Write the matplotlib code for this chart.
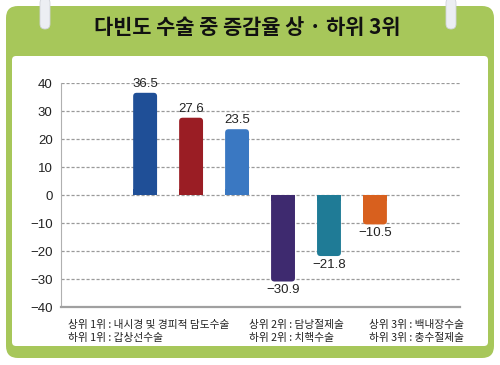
import matplotlib
matplotlib.use("Agg")
import matplotlib.pyplot as plt
from matplotlib.patches import FancyBboxPatch, Rectangle
import matplotlib.font_manager as fm

categories = ["상위 1위", "상위 2위", "상위 3위", "하위 1위", "하위 2위", "하위 3위"]
values = [36.5, 27.6, 23.5, -30.9, -21.8, -10.5]
value_labels = ["36.5", "27.6", "23.5", "−30.9", "−21.8", "−10.5"]
colors = ["#1f4f97", "#9a1d24", "#3a78c2", "#3e2a6f", "#1f7b96", "#d8601e"]
yticks = [40, 30, 20, 10, 0, -10, -20, -30, -40]
ytick_labels = ["40", "30", "20", "10", "0", "−10", "−20", "−30", "−40"]
title = "다빈도 수술 중 증감율 상 · 하위 3위"
notes_col1 = ["상위 1위 : 내시경 및 경피적 담도수술", "하위 1위 : 갑상선수술"]
notes_col2 = ["상위 2위 : 담낭절제술", "하위 2위 : 치핵수술"]
notes_col3 = ["상위 3위 : 백내장수술", "하위 3위 : 충수절제술"]

names = {f.name for f in fm.fontManager.ttflist}
num_font = "Liberation Sans Narrow" if "Liberation Sans Narrow" in names else "Liberation Sans"
kr = "Noto Sans CJK KR"

W, H = 500, 365
fig = plt.figure(figsize=(5, 3.65), dpi=100)
fig.patch.set_facecolor("white")

def fx(px):
    return px / W

def fy(py):
    return 1 - py / H

# outer green frame
bg = fig.add_axes([0, 0, 1, 1])
bg.set_xlim(0, W)
bg.set_ylim(H, 0)
bg.axis("off")
bg.add_patch(FancyBboxPatch((6, 6), 488, 352, boxstyle="round,pad=0,rounding_size=12",
                            fc="#a7c75a", ec="none"))
bg.add_patch(FancyBboxPatch((12, 56), 476, 290, boxstyle="round,pad=0,rounding_size=4",
                            fc="white", ec="none"))
# binder rings
for rx in (45, 451):
    bg.add_patch(FancyBboxPatch((rx - 5, -2), 10, 31, boxstyle="round,pad=0,rounding_size=5",
                                fc="#eceef3", ec="#d0d3da", lw=0.6))
bg.text(247, 28, title, ha="center", va="center", fontsize=15, fontweight=900,
        family=[kr, "DejaVu Sans"], color="#111111")

# notes
for i, (a, b, c) in enumerate(zip(notes_col1, notes_col2, notes_col3)):
    y = 325 + i * 12.5
    for xx, t in ((68, a), (249, b), (369, c)):
        bg.text(xx, y, t, fontsize=7.7, family=[kr], fontweight=500, va="center",
                color="#222222")

# chart axes: left 61, right 460, top 83 (40), bottom 307 (-40)
ax = fig.add_axes([fx(61), fy(307), fx(460 - 61), (307 - 83) / H])
ax.set_facecolor("none")
x = list(range(len(values)))
bars = ax.bar(x, values, width=0.52, color=colors, zorder=3)
ax.set_xlim(-1.83, 6.85)
ax.set_ylim(-40, 40)

# round the outer end of each bar
px_per_x = (460 - 61) / (6.85 + 1.83)
px_per_y = (307 - 83) / 80.0
r_px = 3.5
rx_d = r_px / px_per_x
for b, c in zip(bars, colors):
    x0, w = b.get_x(), b.get_width()
    h = b.get_height()
    b.set_visible(False)
    y0 = min(0, h)
    hh = abs(h)
    ax.add_patch(FancyBboxPatch((x0, y0), w, hh,
                                boxstyle="round,pad=0,rounding_size=%f" % rx_d,
                                mutation_aspect=px_per_x / px_per_y,
                                fc=c, ec="none", zorder=3))
    # square off the zero end
    sq = 6 / px_per_y
    ax.add_patch(Rectangle((x0, 0 if h > 0 else -sq), w, sq, fc=c, ec="none", zorder=3))

ax.set_yticks(yticks)
ax.set_yticklabels(ytick_labels, family=num_font, fontsize=9.5, color="#222222")
ax.set_xticks([])
for t in yticks:
    ax.axhline(t, color="#9a9a9a", lw=0.9, ls=(0, (2.5, 1.5)), zorder=1)
for s in ("top", "right"):
    ax.spines[s].set_visible(False)
ax.spines["left"].set_color("#b0b0b0")
ax.spines["bottom"].set_color("#a0a0a0")
ax.spines["bottom"].set_linewidth(1.6)
ax.tick_params(axis="y", length=0, pad=6)

for xi, v, lab in zip(x, values, value_labels):
    if v >= 0:
        ax.text(xi, v + 1.0, lab, ha="center", va="bottom", family=num_font,
                fontsize=9.5, color="#222222", clip_on=False)
    else:
        ax.text(xi, v - 1.0, lab, ha="center", va="top", family=num_font,
                fontsize=9.5, color="#222222", clip_on=False)

fig.savefig("out.png", dpi=100)
